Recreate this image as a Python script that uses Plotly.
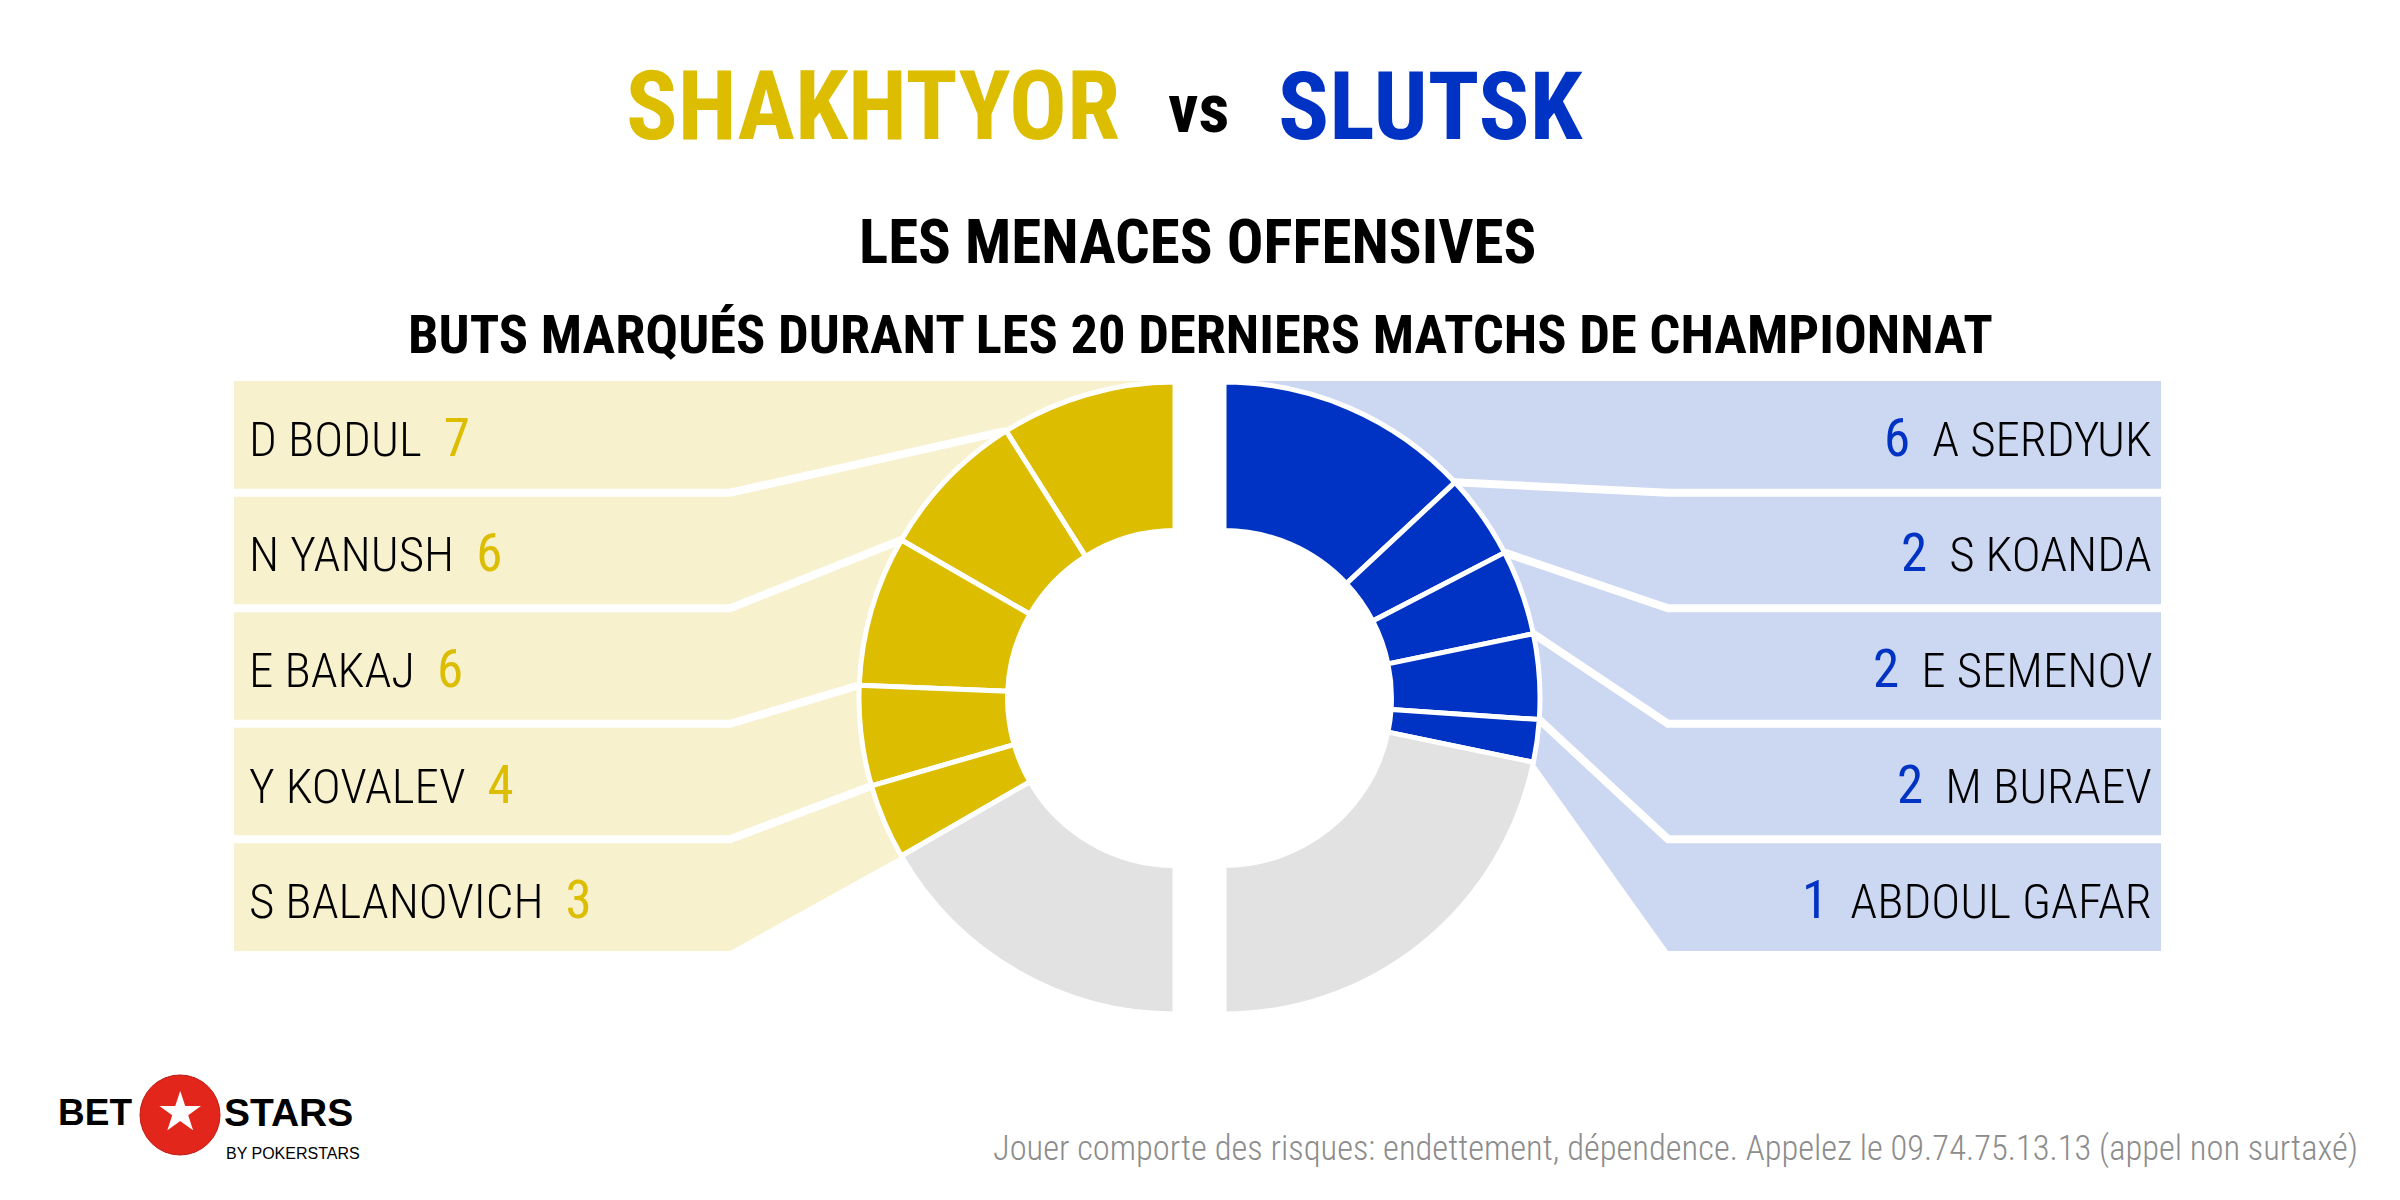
import math
import plotly.graph_objects as go

W, H = 2400, 1200

# ---------------- data ----------------
equipe_gauche = "SHAKHTYOR"
equipe_droite = "SLUTSK"
titre = "LES MENACES OFFENSIVES"
sous_titre = "BUTS MARQUÉS DURANT LES 20 DERNIERS MATCHS DE CHAMPIONNAT"

joueurs_gauche = ["D BODUL", "N YANUSH", "E BAKAJ", "Y KOVALEV", "S BALANOVICH"]
buts_gauche = [7, 6, 6, 4, 3]
autres_gauche = 13

joueurs_droite = ["A SERDYUK", "S KOANDA", "E SEMENOV", "M BURAEV", "ABDOUL GAFAR"]
buts_droite = [6, 2, 2, 2, 1]
autres_droite = 10

avertissement = "Jouer comporte des risques: endettement, dépendence. Appelez le 09.74.75.13.13 (appel non surtaxé)"

# ---------------- style ----------------
JAUNE = "#DDBD00"
BLEU = "#0033C4"
JAUNE_CLAIR = "#F7F1CE"
BLEU_CLAIR = "#CCD7F2"
GRIS = "#E2E2E2"
NARROW = "Roboto Condensed, DejaVu Sans Condensed, Liberation Sans Narrow, Arial Narrow, sans-serif"
SANS = "Liberation Sans, Arial, sans-serif"
COND = "font-stretch:condensed"

CY = 698
CXL, CXR = 1175, 1224
R = 316
HOLE = 0.53
ROW_TOP = 381
ROW_PITCH = 115.5
ROW_H = 108
GAP = ROW_PITCH - ROW_H
L_OUT, L_BEND = 234, 730
R_OUT, R_BEND = 2161, 1668


def px(x):
    return x / W


def py(y):
    return 1 - y / H


def pt(cx, ang, sign):
    a = math.radians(ang)
    return cx + sign * R * math.sin(a), CY - R * math.cos(a)


def cond(t, extra=""):
    return f"<span style='{COND}{extra}'>{t}</span>"


def half_pie(vals, other, color, cx, direction):
    total = sum(vals) + other
    values = list(vals) + [other, total]
    colors = [color] * len(vals) + [GRIS, "rgba(0,0,0,0)"]
    widths = [5] * (len(vals) + 1) + [0]
    # plotly starts a counterclockwise pie at rotation + first slice
    rot = -vals[0] / (2 * total) * 360 if direction == "counterclockwise" else 0
    return go.Pie(
        values=values,
        sort=False,
        direction=direction,
        rotation=rot,
        hole=HOLE,
        marker=dict(colors=colors, line=dict(color="white", width=widths)),
        textinfo="none",
        hoverinfo="skip",
        showlegend=False,
        domain=dict(x=[px(cx - R), px(cx + R)], y=[py(CY + R), py(CY - R)]),
    )


def boundaries(vals, other):
    total = sum(vals) + other
    cum = [0]
    for v in vals:
        cum.append(cum[-1] + v)
    return [c / total * 180.0 for c in cum]


shapes = []


def side(vals, other, cx, sign, out_x, bend_x, fill):
    angs = boundaries(vals, other)
    n = len(vals)
    bottom = ROW_TOP + (n - 1) * ROW_PITCH + ROW_H
    pts = [(out_x, ROW_TOP), (cx, ROW_TOP)]
    steps = 90
    for k in range(steps + 1):
        a = angs[-1] * k / steps
        pts.append(pt(cx, a, sign))
    pts += [(bend_x, bottom), (out_x, bottom)]
    path = "M " + " L ".join(f"{px(x):.5f},{py(y):.5f}" for x, y in pts) + " Z"
    shapes.append(dict(type="path", path=path, xref="paper", yref="paper",
                       fillcolor=fill, line=dict(width=0), layer="below"))
    for i in range(1, n):
        y = ROW_TOP + i * ROW_PITCH - GAP / 2
        ex, ey = pt(cx, angs[i], sign)
        lp = [(out_x, y), (bend_x, y), (ex, ey)]
        path = "M " + " L ".join(f"{px(x):.5f},{py(yy):.5f}" for x, yy in lp)
        shapes.append(dict(type="path", path=path, xref="paper", yref="paper",
                           line=dict(color="white", width=8), layer="below"))


side(buts_gauche, autres_gauche, CXL, -1, L_OUT, L_BEND, JAUNE_CLAIR)
side(buts_droite, autres_droite, CXR, 1, R_OUT, R_BEND, BLEU_CLAIR)

fig = go.Figure()
fig.add_trace(half_pie(buts_gauche, autres_gauche, JAUNE, CXL, "counterclockwise"))
fig.add_trace(half_pie(buts_droite, autres_droite, BLEU, CXR, "clockwise"))

ann = []
NUM = ";font-size:53px;font-weight:400"
for i, (nom, b) in enumerate(zip(joueurs_gauche, buts_gauche)):
    yc = ROW_TOP + i * ROW_PITCH + ROW_H / 2 + 3
    ann.append(dict(x=px(247), y=py(yc), xref="paper", yref="paper",
                    xanchor="left", yanchor="middle", showarrow=False,
                    text=cond(nom) + "\u00a0\u00a0" + cond(b, f";color:{JAUNE}{NUM}"),
                    font=dict(family=NARROW, size=49, color="black", weight=300)))
for i, (nom, b) in enumerate(zip(joueurs_droite, buts_droite)):
    yc = ROW_TOP + i * ROW_PITCH + ROW_H / 2 + 3
    ann.append(dict(x=px(2154), y=py(yc), xref="paper", yref="paper",
                    xanchor="right", yanchor="middle", showarrow=False,
                    text=cond(b, f";color:{BLEU}{NUM}") + "\u00a0\u00a0" + cond(nom),
                    font=dict(family=NARROW, size=49, color="black", weight=300)))

# titles
ann.append(dict(x=px(1122), y=py(106), xref="paper", yref="paper", xanchor="right",
                yanchor="middle", showarrow=False, text=f"<b>{cond(equipe_gauche)}</b>",
                font=dict(family=NARROW, size=96, color=JAUNE)))
ann.append(dict(x=px(1198), y=py(109), xref="paper", yref="paper", xanchor="center",
                yanchor="middle", showarrow=False, text=f"<b>{cond('vs')}</b>",
                font=dict(family=NARROW, size=68, color="black")))
ann.append(dict(x=px(1276), y=py(106), xref="paper", yref="paper", xanchor="left",
                yanchor="middle", showarrow=False, text=f"<b>{cond(equipe_droite)}</b>",
                font=dict(family=NARROW, size=95, color=BLEU)))
ann.append(dict(x=px(1197), y=py(242), xref="paper", yref="paper", xanchor="center",
                yanchor="middle", showarrow=False, text=f"<b>{cond(titre)}</b>",
                font=dict(family=NARROW, size=61, color="black")))
ann.append(dict(x=px(1200), y=py(334), xref="paper", yref="paper", xanchor="center",
                yanchor="middle", showarrow=False, text=f"<b>{cond(sous_titre)}</b>",
                font=dict(family=NARROW, size=54.5, color="black")))

# logo
ann.append(dict(x=px(56), y=py(1112), xref="paper", yref="paper", xanchor="left",
                yanchor="middle", showarrow=False, text="<b>BET</b>",
                font=dict(family=SANS, size=37, color="black")))
ann.append(dict(x=px(222), y=py(1112), xref="paper", yref="paper", xanchor="left",
                yanchor="middle", showarrow=False, text="<b>STARS</b>",
                font=dict(family=SANS, size=39, color="black")))
ann.append(dict(x=px(224), y=py(1153), xref="paper", yref="paper", xanchor="left",
                yanchor="middle", showarrow=False, text="BY POKERSTARS",
                font=dict(family=SANS, size=16, color="black")))
shapes.append(dict(type="circle", xref="paper", yref="paper",
                   x0=px(140), x1=px(220), y0=py(1155), y1=py(1075),
                   fillcolor="#E2261C", line=dict(color="#C01810", width=1), layer="above"))
ann.append(dict(x=px(180), y=py(1111), xref="paper", yref="paper", xanchor="center",
                yanchor="middle", showarrow=False, text="★",
                font=dict(family="DejaVu Sans", size=54, color="white")))

# disclaimer
ann.append(dict(x=px(2360), y=py(1148), xref="paper", yref="paper", xanchor="right",
                yanchor="middle", showarrow=False, text=cond(avertissement),
                font=dict(family=NARROW, size=34.5, color="#8C8C8C", weight=300)))

fig.update_layout(
    width=W, height=H,
    margin=dict(l=0, r=0, t=0, b=0),
    paper_bgcolor="white", plot_bgcolor="white",
    showlegend=False,
    shapes=shapes,
    annotations=ann,
)

fig.write_html("out.html")
